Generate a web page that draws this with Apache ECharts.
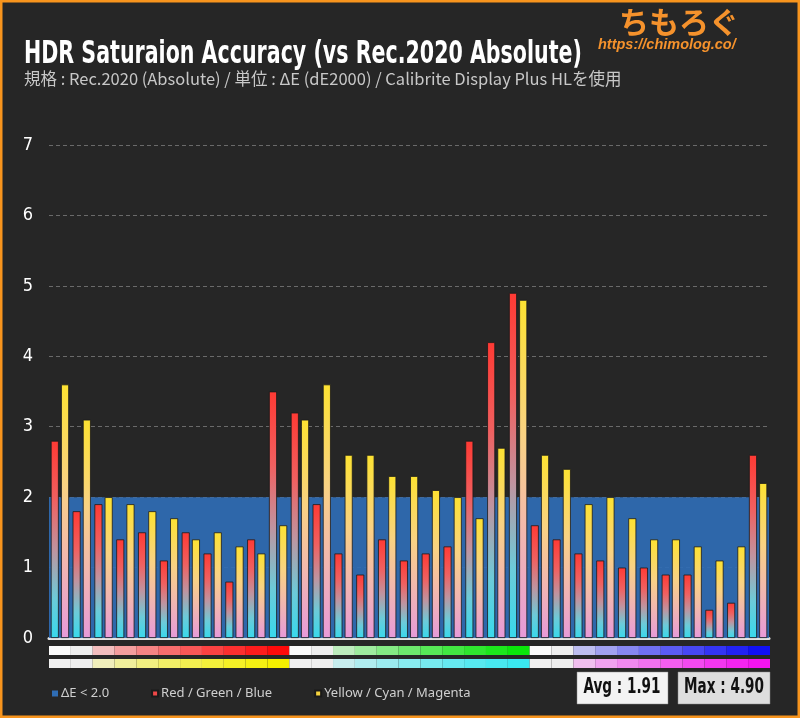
<!DOCTYPE html>
<html>
<head>
<meta charset="utf-8">
<title>HDR Saturaion Accuracy</title>
<script src="https://cdn.jsdelivr.net/npm/echarts@6/dist/echarts.min.js"></script>
<style>
  html, body { margin: 0; padding: 0; background: #262626; }
  #chart { width: 800px; height: 718px; }
</style>
</head>
<body>
<div id="chart"></div>
<script>
// 彩度ステップ（0%〜100%）と色相グループ
const satSteps = ['0%', '10%', '20%', '30%', '40%', '50%', '60%', '70%', '80%', '90%', '100%'];
const hueGroups = ['R/Y', 'G/C', 'B/M'];

// ΔE (dE2000) 値：赤系バー = Red / Green / Blue
const rgbValues = [
  2.8, 1.8, 1.9, 1.4, 1.5, 1.1, 1.5, 1.2, 0.8, 1.4, 3.5,
  3.2, 1.9, 1.2, 0.9, 1.4, 1.1, 1.2, 1.3, 2.8, 4.2, 4.9,
  1.6, 1.4, 1.2, 1.1, 1.0, 1.0, 0.9, 0.9, 0.4, 0.5, 2.6
];
// 黄系バー = Yellow / Cyan / Magenta
const ycmValues = [
  3.6, 3.1, 2.0, 1.9, 1.8, 1.7, 1.4, 1.5, 1.3, 1.2, 1.6,
  3.1, 3.6, 2.6, 2.6, 2.3, 2.3, 2.1, 2.0, 1.7, 2.7, 4.8,
  2.6, 2.4, 1.9, 2.0, 1.7, 1.4, 1.4, 1.3, 1.1, 1.3, 2.2
];

const yTicks = [0, 1, 2, 3, 4, 5, 6, 7];
const threshold = 2.0;

// カラーパッチの色（行1: R/G/B, 行2: Y/C/M）
const row1Hues = ['#ff0a0a', '#0ae60a', '#1010f5'];
const row2Hues = ['#f5f000', '#3ae8f0', '#f514f0'];

const categories = [];
hueGroups.forEach(g => satSteps.forEach(s => categories.push(g + ' ' + s)));

function mix(a, b, t) {
  const pa = [1, 3, 5].map(i => parseInt(a.substr(i, 2), 16));
  const pb = [1, 3, 5].map(i => parseInt(b.substr(i, 2), 16));
  return 'rgb(' + pa.map((v, i) => Math.round(v + (pb[i] - v) * t)).join(',') + ')';
}

function patchColors(hues, first) {
  const out = [];
  hues.forEach(h => {
    satSteps.forEach((s, i) => {
      if (i === 0) out.push(first);
      else out.push(mix('#eeeeee', h, Math.pow((i - 1) / 9, 0.7)));
    });
  });
  return out;
}
const row1Colors = patchColors(row1Hues, '#fbfbfb');
const row2Colors = patchColors(row2Hues, '#efefef');

const all = rgbValues.concat(ycmValues);
const avg = all.reduce((a, b) => a + b, 0) / all.length;
const max = Math.max.apply(null, all);

const redGrad = new echarts.graphic.LinearGradient(0, 0, 0, 1, [
  { offset: 0, color: '#ff3a34' },
  { offset: 0.3, color: '#f06060' },
  { offset: 0.55, color: '#c0939f' },
  { offset: 0.8, color: '#6ccbd9' },
  { offset: 1, color: '#38d9ec' }
]);
const yellowGrad = new echarts.graphic.LinearGradient(0, 0, 0, 1, [
  { offset: 0, color: '#fde232' },
  { offset: 0.4, color: '#f9d283' },
  { offset: 0.65, color: '#f3bba9' },
  { offset: 1, color: '#e79ad9' }
]);

const chart = echarts.init(document.getElementById('chart'));

const condensed = '"DejaVu Sans Condensed", "DejaVu Sans", sans-serif';

chart.setOption({
  backgroundColor: '#262626',
  animation: false,
  legend: {
    left: 47,
    top: 682,
    icon: 'rect',
    itemWidth: 6,
    itemHeight: 6,
    itemGap: 42,
    textStyle: { color: '#cfcfcf', fontSize: 13, fontFamily: '"Noto Sans", sans-serif', padding: [0, 0, 0, -2] },
    selectedMode: false,
    data: [
      { name: 'ΔE < 2.0', itemStyle: { color: '#2f6db5' } },
      { name: 'Red / Green / Blue', itemStyle: { color: '#f04848' } },
      { name: 'Yellow / Cyan / Magenta', itemStyle: { color: '#f5d23e' } }
    ]
  },
  grid: [
    { left: 49, right: 31, top: 145, height: 493 },
    { left: 49, right: 30, top: 646, height: 9 },
    { left: 49, right: 30, top: 659, height: 9 }
  ],
  xAxis: [
    {
      type: 'category', data: categories, gridIndex: 0,
      axisLine: { lineStyle: { color: '#e2e2e2', width: 3 } },
      axisTick: { show: false }, axisLabel: { show: false }
    },
    {
      type: 'category', data: categories, gridIndex: 1,
      axisLine: { show: false }, axisTick: { show: false }, axisLabel: { show: false }
    },
    {
      type: 'category', data: categories, gridIndex: 2,
      axisLine: { show: false }, axisTick: { show: false }, axisLabel: { show: false }
    }
  ],
  yAxis: [
    {
      type: 'value', gridIndex: 0, min: yTicks[0], max: yTicks[yTicks.length - 1], interval: 1,
      axisLine: { show: false }, axisTick: { show: false },
      axisLabel: { color: '#ffffff', fontSize: 18, fontFamily: condensed, margin: 16 },
      splitLine: { lineStyle: { color: '#6a6a6a', type: [4, 3], width: 1 } }
    },
    { type: 'value', gridIndex: 1, min: 0, max: 1, show: false },
    { type: 'value', gridIndex: 2, min: 0, max: 1, show: false }
  ],
  series: [
    {
      name: 'ΔE < 2.0',
      type: 'line',
      data: [],
      markArea: {
        silent: true,
        itemStyle: { color: '#2f6db5', opacity: 0.93 },
        data: [[{ yAxis: 0 }, { yAxis: threshold }]]
      }
    },
    {
      name: 'Red / Green / Blue',
      type: 'bar',
      data: rgbValues,
      barWidth: 8,
      barGap: '28%',
      itemStyle: { color: redGrad, borderColor: '#1a1a1a', borderWidth: 0.8 }
    },
    {
      name: 'Yellow / Cyan / Magenta',
      type: 'bar',
      data: ycmValues,
      barWidth: 8,
      barGap: '28%',
      itemStyle: { color: yellowGrad, borderColor: '#1a1a1a', borderWidth: 0.8 }
    },
    {
      type: 'bar', xAxisIndex: 1, yAxisIndex: 1, barWidth: '100%', silent: true,
      data: row1Colors.map(c => ({ value: 1, itemStyle: { color: c } }))
    },
    {
      type: 'bar', xAxisIndex: 2, yAxisIndex: 2, barWidth: '100%', silent: true,
      data: row2Colors.map(c => ({ value: 1, itemStyle: { color: c } }))
    }
  ],
  graphic: [
    {
      type: 'rect', shape: { x: 1, y: 1, width: 798, height: 716 }, silent: true,
      style: { fill: 'none', stroke: '#f7941d', lineWidth: 3 }, z: 100
    },
    {
      type: 'text', x: 24, y: 39, scaleX: 0.715, silent: true,
      style: {
        text: 'HDR Saturaion Accuracy (vs Rec.2020 Absolute)',
        font: 'bold 32px ' + condensed, fill: '#ffffff'
      }
    },
    {
      type: 'text', x: 24, y: 70, silent: true,
      style: {
        text: '規格 : Rec.2020 (Absolute) / 単位 : ΔE (dE2000) / Calibrite Display Plus HLを使用',
        font: '16.5px "Noto Sans CJK JP", sans-serif', fill: '#c8c8c8'
      }
    },
    {
      type: 'text', x: 619, y: 7, silent: true,
      style: { text: 'ちもろぐ', font: 'bold 30px "Noto Sans CJK JP", sans-serif', fill: '#f5922c' }
    },
    {
      type: 'text', x: 598, y: 37, silent: true,
      style: { text: 'https://chimolog.co/', font: 'italic bold 14.5px "Liberation Sans", sans-serif', fill: '#f5922c' }
    },
    {
      type: 'rect', shape: { x: 577, y: 672, width: 91, height: 32 }, silent: true,
      style: { fill: '#f3f3f3', stroke: '#888', lineWidth: 0.5 }
    },
    {
      type: 'text', x: 622, y: 688, scaleX: 0.72, silent: true,
      style: {
        text: 'Avg : ' + avg.toFixed(2), font: 'bold 21px ' + condensed, fill: '#111',
        align: 'center', verticalAlign: 'middle', textAlign: 'center', textVerticalAlign: 'middle'
      }
    },
    {
      type: 'rect', shape: { x: 678, y: 672, width: 92, height: 32 }, silent: true,
      style: { fill: '#dedede', stroke: '#888', lineWidth: 0.5 }
    },
    {
      type: 'text', x: 724, y: 688, scaleX: 0.72, silent: true,
      style: {
        text: 'Max : ' + max.toFixed(2), font: 'bold 21px ' + condensed, fill: '#111',
        align: 'center', verticalAlign: 'middle', textAlign: 'center', textVerticalAlign: 'middle'
      }
    }
  ]
});
</script>
</body>
</html>
